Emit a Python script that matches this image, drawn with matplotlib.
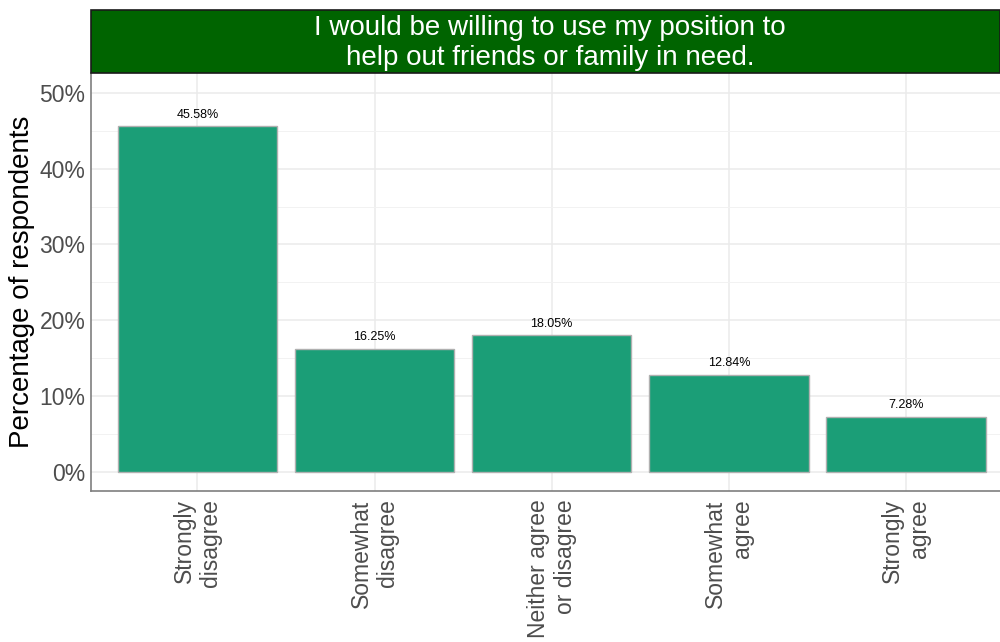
import matplotlib
matplotlib.use("Agg")
import matplotlib.pyplot as plt
from matplotlib.patches import Rectangle
from matplotlib.ticker import MultipleLocator, FuncFormatter

categories = ["Strongly\ndisagree", "Somewhat\ndisagree", "Neither agree\nor disagree",
              "Somewhat\nagree", "Strongly\nagree"]
values = [45.58, 16.25, 18.05, 12.84, 7.28]
title = "I would be willing to use my position to\nhelp out friends or family in need."
ylabel = "Percentage of respondents"

plt.rcParams['font.family'] = ['Liberation Sans', 'DejaVu Sans']

W, H = 1000, 642
fig = plt.figure(figsize=(10, 6.42), dpi=100)
left, right, top, bottom = 91 / W, 1.0, 1 - 73 / H, 1 - 491 / H
ax = fig.add_axes([left, bottom, right - left, top - bottom])

x = list(range(1, len(values) + 1))
ax.bar(x, values, width=0.9, color="#1b9e77", edgecolor="#b0b0b0", linewidth=1, zorder=3)
for xi, v in zip(x, values):
    ax.annotate(f"{v:.2f}%", (xi, v), xytext=(0, 4), textcoords="offset points",
                ha="center", va="bottom", fontsize=9, color="black", zorder=4)

ax.set_xlim(0.4, 5.53)
ax.set_ylim(-2.5, 52.6)
ax.yaxis.set_major_locator(MultipleLocator(10))
ax.yaxis.set_minor_locator(MultipleLocator(5))
ax.yaxis.set_major_formatter(FuncFormatter(lambda v, p: f"{v:.0f}%"))
ax.set_xticks(x)
ax.set_xticklabels(categories, rotation=90, ha="center", va="top",
                   multialignment="right", fontsize=16.5, color="#4d4d4d")
ax.tick_params(axis="y", labelsize=16.5, labelcolor="#4d4d4d", length=0, pad=4)
ax.tick_params(axis="x", length=0, pad=6)
ax.tick_params(which="minor", length=0)
ax.grid(which="major", color="#ebebeb", linewidth=1.1, zorder=0)
ax.grid(which="minor", axis="y", color="#f2f2f2", linewidth=0.7, zorder=0)
ax.set_axisbelow(True)
for s in ["top", "right"]:
    ax.spines[s].set_visible(False)
for s in ["left", "bottom"]:
    ax.spines[s].set_color("#7f7f7f")
    ax.spines[s].set_linewidth(1.2)
ax.set_ylabel(ylabel, fontsize=20, color="black", labelpad=3)

# title strip
sax = fig.add_axes([left, 1 - 73 / H, right - left, 63 / H])
sax.set_xlim(0, 1); sax.set_ylim(0, 1)
sax.add_patch(Rectangle((0, 0), 1, 1, facecolor="#006400", edgecolor="#1a1a1a",
                        linewidth=1.2, transform=sax.transAxes, clip_on=False))
sax.text(0.505, 0.48, title, ha="center", va="center", color="white", fontsize=20,
         linespacing=1.2)
sax.axis("off")

fig.savefig("out.png", dpi=100)
